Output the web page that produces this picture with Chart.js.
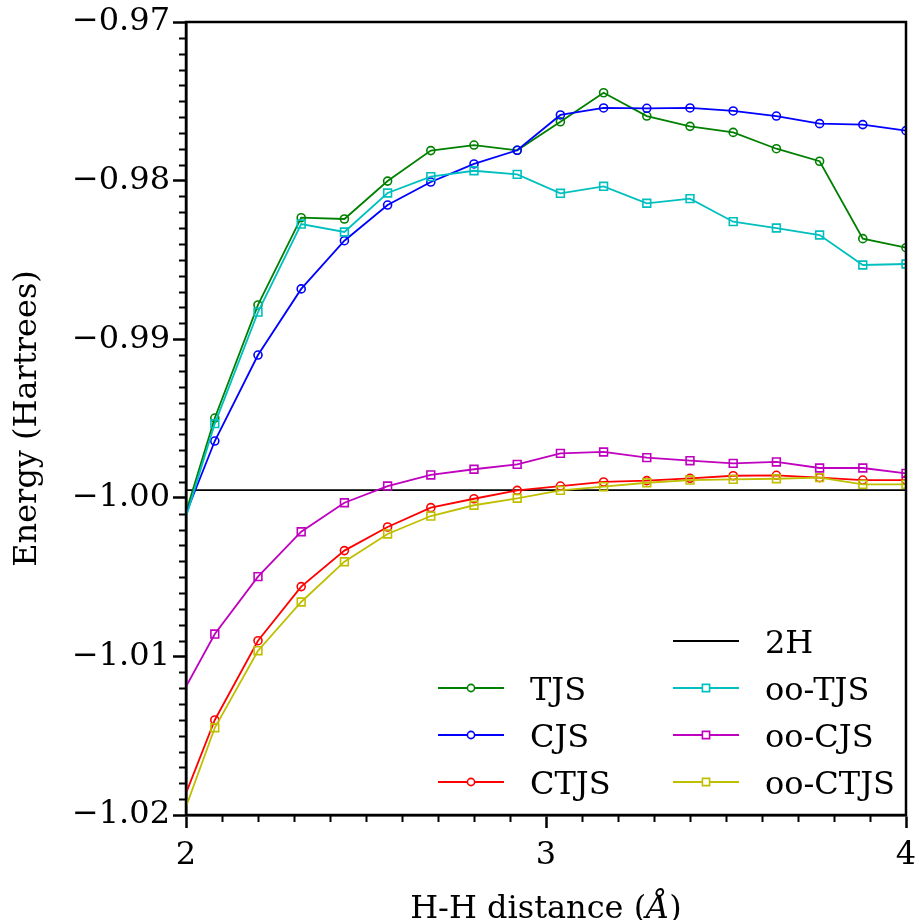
<!DOCTYPE html>
<html>
<head>
<meta charset="utf-8">
<script src="https://cdn.jsdelivr.net/npm/chart.js@4.4.1/dist/chart.umd.min.js"></script>
<style>
  html,body{margin:0;padding:0;background:#fff;overflow:hidden}
  #c{display:block}
</style>
</head>
<body>
<canvas id="c" width="919" height="920"></canvas>
<script>
// H2 energies vs H-H distance (first point sits just left of the x-range, so it is clipped)
const distances = [1.96, 2.08, 2.20, 2.32, 2.44, 2.56, 2.68, 2.80, 2.92, 3.04, 3.16, 3.28, 3.40, 3.52, 3.64, 3.76, 3.88, 4.00];
const tjs    = [-1.00387, -0.99497, -0.98784, -0.98234, -0.98242, -0.98003, -0.97811, -0.97776, -0.97809, -0.97629, -0.97446, -0.97593, -0.97658, -0.97696, -0.97799, -0.97878, -0.98366, -0.98423];
const cjs    = [-1.00329, -0.99642, -0.99100, -0.98683, -0.98379, -0.98154, -0.98009, -0.97895, -0.97809, -0.97586, -0.97542, -0.97544, -0.97542, -0.97561, -0.97593, -0.97641, -0.97647, -0.97685];
const ctjs   = [-1.02094, -1.01401, -1.00901, -1.00560, -1.00333, -1.00184, -1.00062, -1.00006, -0.99953, -0.99926, -0.99900, -0.99892, -0.99877, -0.99861, -0.99858, -0.99873, -0.99888, -0.99888];
const ooTjs  = [-1.00414, -0.99532, -0.98829, -0.98274, -0.98324, -0.98078, -0.97975, -0.97938, -0.97961, -0.98080, -0.98036, -0.98143, -0.98114, -0.98259, -0.98299, -0.98343, -0.98532, -0.98526];
const ooCjs  = [-1.01357, -1.00859, -1.00497, -1.00214, -1.00031, -0.99926, -0.99856, -0.99820, -0.99789, -0.99720, -0.99711, -0.99747, -0.99766, -0.99783, -0.99774, -0.99812, -0.99812, -0.99846];
const ooCtjs = [-1.02197, -1.01450, -1.00964, -1.00657, -1.00403, -1.00228, -1.00115, -1.00047, -1.00003, -0.99953, -0.99930, -0.99905, -0.99888, -0.99884, -0.99880, -0.99873, -0.99915, -0.99915];
const twoH = -0.99951;   // two separated H atoms
const xTicks = [2, 3, 4];
const yTicks = [-1.02, -1.01, -1.00, -0.99, -0.98, -0.97];

const FONT = 'DejaVu Serif';
const FS = 32;
const pts = vals => vals.map((y,i)=>({x:distances[i], y}));

function series(label, vals, color, style, order){
  return {
    label, data: pts(vals), borderColor: color, backgroundColor: 'transparent',
    borderWidth: 1.8, pointStyle: style, pointRadius: style==='rect' ? 5.5 : 4,
    pointBorderWidth: 1.6, pointBorderColor: color, pointBackgroundColor: 'transparent',
    pointHoverRadius: 0, tension: 0, order
  };
}

const datasets = [
  {label:'2H', data:[{x:distances[0], y:twoH},{x:distances[distances.length-1], y:twoH}],
   borderColor:'#000', borderWidth:1.8, pointRadius:0, order:7},
  series('TJS',     tjs,    '#008000', 'circle', 6),
  series('CJS',     cjs,    '#0000ff', 'circle', 5),
  series('CTJS',    ctjs,   '#ff0000', 'circle', 4),
  series('oo-TJS',  ooTjs,  '#00bfbf', 'rect',   3),
  series('oo-CJS',  ooCjs,  '#bf00bf', 'rect',   2),
  series('oo-CTJS', ooCtjs, '#bfbf00', 'rect',   1),
];

// legend slots: [column, row]
const legendSlots = {'2H':[1,0], 'TJS':[0,1], 'CJS':[0,2], 'CTJS':[0,3], 'oo-TJS':[1,1], 'oo-CJS':[1,2], 'oo-CTJS':[1,3]};

const frame = {
  id:'frame',
  afterDatasetsDraw(chart){
    const {ctx, chartArea:a, scales:{x, y}} = chart;
    ctx.save();
    ctx.strokeStyle = '#000';
    // minor ticks
    ctx.lineWidth = 2;
    ctx.beginPath();
    for(let k=0;k<=50;k++){
      if(k%10===0) continue;
      const py = Math.round(y.getPixelForValue(-1.02 + k*0.001)) + 0.5;
      ctx.moveTo(a.left-7, py); ctx.lineTo(a.left, py);
    }
    for(let k=0;k<=20;k++){
      if(k%10===0) continue;
      const px = Math.round(x.getPixelForValue(2 + k*0.1)) + 0.5;
      ctx.moveTo(px, a.bottom); ctx.lineTo(px, a.bottom+7);
    }
    ctx.stroke();
    // spines
    ctx.lineWidth = 2.5;
    ctx.strokeRect(a.left, a.top, a.right-a.left, a.bottom-a.top);
    ctx.restore();
  },
  afterDraw(chart){
    const ctx = chart.ctx, a = chart.chartArea;
    const colX = [438, 673], rowY = [641, 688, 735, 782];
    ctx.save();
    ctx.font = FS + 'px "' + FONT + '"';
    ctx.textBaseline = 'alphabetic';
    ctx.fillStyle = '#000';
    chart.data.datasets.forEach(ds=>{
      const slot = legendSlots[ds.label]; if(!slot) return;
      const lx = colX[slot[0]], ly = rowY[slot[1]];
      ctx.strokeStyle = ds.borderColor; ctx.lineWidth = 1.8;
      ctx.beginPath(); ctx.moveTo(lx, ly); ctx.lineTo(lx+66, ly); ctx.stroke();
      if(ds.pointRadius){
        ctx.lineWidth = 1.6;
        const cx = lx+33;
        ctx.beginPath();
        if(ds.pointStyle==='rect') ctx.rect(cx-3.6, ly-3.6, 7.2, 7.2);
        else ctx.arc(cx, ly, 3.6, 0, Math.PI*2);
        ctx.fillStyle = '#fff'; ctx.fill(); ctx.stroke();
        ctx.fillStyle = '#000';
      }
      ctx.fillText(ds.label, lx+92, ly+12);
    });
    // x axis title with italic angstrom
    const parts = [['H-H distance (', ''], ['Å', 'italic '], [')', '']];
    let total = 0;
    parts.forEach(p=>{ ctx.font = p[1] + FS + 'px "' + FONT + '"'; p.w = ctx.measureText(p[0]).width; total += p.w; });
    let tx = (a.left + a.right)/2 - total/2;
    parts.forEach(p=>{ ctx.font = p[1] + FS + 'px "' + FONT + '"'; ctx.fillText(p[0], tx, 918); tx += p.w; });
    ctx.restore();
  }
};

new Chart(document.getElementById('c'), {
  type:'line',
  data:{datasets},
  plugins:[frame],
  options:{
    responsive:false, animation:false, devicePixelRatio:1,
    layout:{padding:{top:22, right:13, left:0, bottom:0}},
    plugins:{legend:{display:false}, tooltip:{enabled:false}},
    scales:{
      x:{
        type:'linear', min:2, max:4,
        afterFit: s => { s.height = 105; s.paddingRight = 0; s.paddingLeft = 0; },
        afterBuildTicks: s => { s.ticks = xTicks.map(v=>({value:v})); },
        ticks:{color:'#000', font:{family:FONT, size:FS}, padding:8, maxRotation:0,
               callback: v => String(v)},
        grid:{drawOnChartArea:false, drawTicks:true, tickLength:13, tickWidth:2.5, tickColor:'#000'},
        border:{display:true, color:'#000', width:2.5},
        title:{display:false}
      },
      y:{
        type:'linear', min:-1.02, max:-0.97,
        afterFit: s => { s.width = 186; s.paddingTop = 0; s.paddingBottom = 0; },
        afterBuildTicks: s => { s.ticks = yTicks.map(v=>({value:v})); },
        ticks:{color:'#000', font:{family:FONT, size:FS}, padding:3,
               callback: v => (v<0?'\u2212':'') + Math.abs(v).toFixed(2)},
        grid:{drawOnChartArea:false, drawTicks:true, tickLength:13, tickWidth:2.5, tickColor:'#000'},
        border:{display:true, color:'#000', width:2.5},
        title:{display:true, text:'Energy (Hartrees)', color:'#000',
               font:{family:FONT, size:FS}, padding:{top:8, bottom:0}}
      }
    }
  }
});
</script>
</body>
</html>
